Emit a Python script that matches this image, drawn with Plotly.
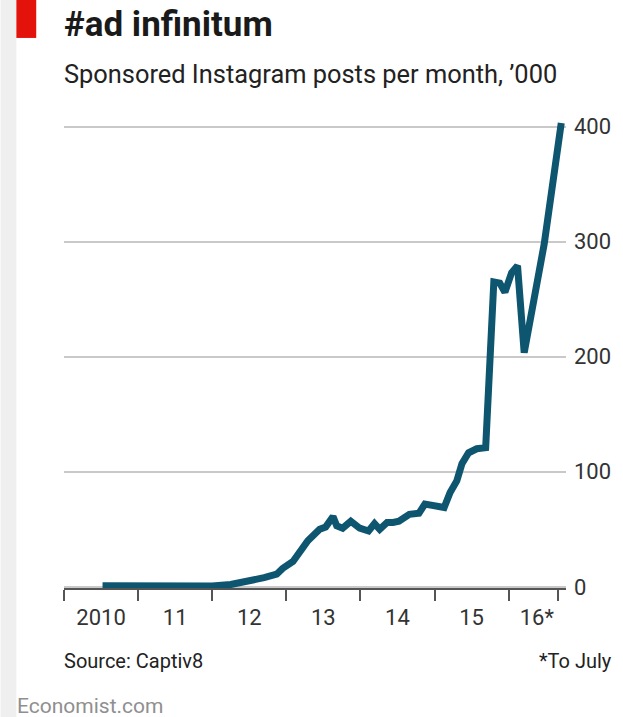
import plotly.graph_objects as go

# ---- data ----
years = [2010.52, 2010.90, 2011.20, 2011.49, 2011.80, 2012.00, 2012.25, 2012.49, 2012.70,
         2012.87, 2012.95, 2013.09, 2013.20, 2013.29, 2013.37, 2013.45, 2013.53, 2013.63,
         2013.68, 2013.76, 2013.87, 2013.99, 2014.11, 2014.19, 2014.26, 2014.36, 2014.44,
         2014.52, 2014.66, 2014.79, 2014.87, 2014.99, 2015.13, 2015.21, 2015.30, 2015.37,
         2015.46, 2015.57, 2015.69, 2015.80, 2015.88, 2015.95, 2016.04, 2016.12, 2016.21,
         2016.48, 2016.71]
posts = [1.0, 0.7, 0.3, 0.0, 0.3, 0.8, 2.0, 4.5, 8.0,
         11.0, 16.0, 22.0, 33.0, 40.0, 45.0, 50.0, 52.0, 61.0,
         53.0, 51.0, 57.0, 51.0, 48.5, 55.0, 50.0, 56.0, 56.0,
         57.0, 63.0, 64.0, 72.0, 70.0, 69.0, 82.0, 92.0, 107.0,
         116.5, 120.0, 121.0, 265.0, 264.0, 256.0, 273.0, 279.0, 203.5,
         298.0, 403.0]

year_ticks = [2010, 2011, 2012, 2013, 2014, 2015, 2016, 2016.667]
label_pos = [2010.5, 2011.5, 2012.5, 2013.5, 2014.5, 2015.5, 2016.38]
label_text = ["2010", "11", "12", "13", "14", "15", "16*"]
y_ticks = [0, 100, 200, 300, 400]

W, H = 623, 717
L, R, T, B = 64, 570, 115, 587.65


def px_x(p):
    return (p - L) / (R - L)


def px_y(p):
    return (B - p) / (B - T)


FONT = "Roboto, 'Open Sans', sans-serif"
LINE = "#0e5570"

fig = go.Figure()
fig.add_trace(go.Scatter(x=years, y=posts, mode="lines",
                         line=dict(color=LINE, width=7, shape="linear"),
                         hoverinfo="x+y", showlegend=False))

fig.update_layout(
    width=W, height=H,
    margin=dict(l=L, r=W - R, t=T, b=H - B, pad=0),
    paper_bgcolor="white", plot_bgcolor="white",
    font=dict(family=FONT, color="#333333"),
    xaxis=dict(
        range=[2010, 2016.774],
        tickmode="array", tickvals=label_pos, ticktext=label_text,
        ticks="", showgrid=False, zeroline=False,
        showline=True, linecolor="#555555", linewidth=1.5,
        tickfont=dict(size=22, color="#333333"),
        ticklabelstandoff=9,
        minor=dict(tickmode="array", tickvals=year_ticks, ticks="outside",
                   ticklen=11, tickwidth=1.5, tickcolor="#555555", showgrid=False),
        layer="below traces",
    ),
    yaxis=dict(
        range=[-1, 410], side="right",
        tickmode="array", tickvals=y_ticks,
        ticks="", showgrid=True, gridcolor="#c9c9c9", gridwidth=2,
        zeroline=False, showline=False,
        tickfont=dict(size=22, color="#333333"),
        ticklabelstandoff=7,
        layer="below traces",
    ),
)

shapes = [
    dict(type="rect", xref="paper", yref="paper",
         x0=px_x(0), x1=px_x(16), y0=px_y(H), y1=px_y(0),
         fillcolor="#efefef", line=dict(width=0), layer="below"),
    dict(type="rect", xref="paper", yref="paper",
         x0=px_x(16), x1=px_x(36), y0=px_y(38), y1=px_y(0),
         fillcolor="#e3120b", line=dict(width=0), layer="below"),
]
fig.update_layout(shapes=shapes)

annotations = [
    dict(text="<b>#ad infinitum</b>", x=px_x(62), y=px_y(25), xref="paper", yref="paper",
         xanchor="left", yanchor="middle", showarrow=False,
         font=dict(size=35, color="#1a1a1a", family=FONT)),
    dict(text="Sponsored Instagram posts per month, \u2019000", x=px_x(62), y=px_y(74),
         xref="paper", yref="paper", xanchor="left", yanchor="middle", showarrow=False,
         font=dict(size=25.4, color="#222222", family=FONT)),
    dict(text="Source: Captiv8", x=px_x(62), y=px_y(661), xref="paper", yref="paper",
         xanchor="left", yanchor="middle", showarrow=False,
         font=dict(size=20, color="#222222", family=FONT)),
    dict(text="*To July", x=px_x(618), y=px_y(661), xref="paper", yref="paper",
         xanchor="right", yanchor="middle", showarrow=False,
         font=dict(size=20, color="#222222", family=FONT)),
    dict(text="Economist.com", x=px_x(15), y=px_y(706), xref="paper", yref="paper",
         xanchor="left", yanchor="middle", showarrow=False,
         font=dict(size=21, color="#8f8f8f", family=FONT)),
]
fig.update_layout(annotations=annotations)

fig.write_html("out.html", config={"displayModeBar": False},
               post_script="document.body.style.margin='0';")
